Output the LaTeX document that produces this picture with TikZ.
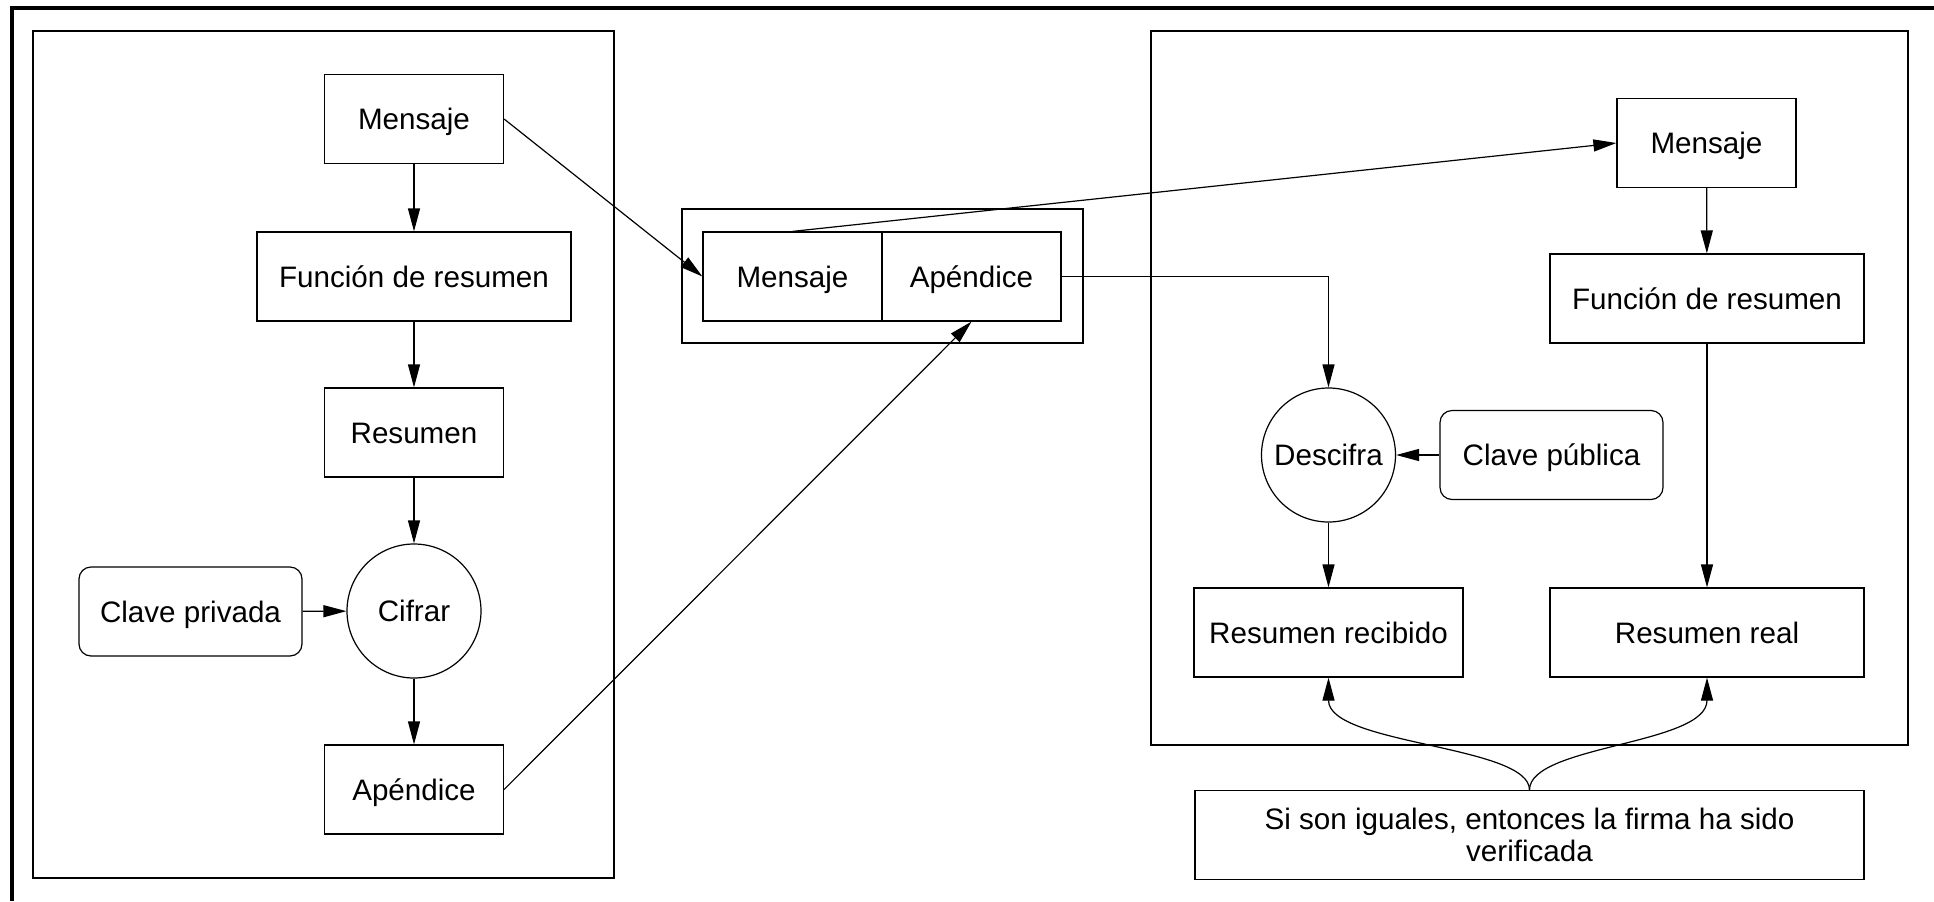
\documentclass[tikz,border=0pt]{standalone}
\usepackage{fontspec}
\setmainfont{Liberation Sans}
\usetikzlibrary{arrows.meta}

\begin{document}
\begin{tikzpicture}[x=0.5pt,y=-0.5pt,line width=0.6pt,
  font=\fontsize{14.8}{16}\selectfont,
  box/.style={draw,inner sep=0pt,minimum height=44.5pt,text height=10.6pt,text depth=0pt},
  keybox/.style={box,rounded corners=6pt,minimum width=111.5pt},
  op/.style={draw,circle,inner sep=0pt,minimum size=67pt,text height=10.6pt,text depth=0pt},
  note/.style={draw,inner sep=0pt,minimum height=44.5pt,align=center},
  arr/.style={-{Triangle[length=11.5pt,width=6pt]}}]
\pgfmathsetmacro{\smallw}{89.5}
\pgfmathsetmacro{\widew}{157}
\useasboundingbox (0,0) rectangle (1934,901);
\draw[line width=2pt] (12,901) -- (12,8) -- (1934,8);
\draw (33,31) rectangle (614,878);
\draw (1151,31) rectangle (1908,745);
\draw (682,209) rectangle (1083,343);

\node[box,minimum width=\smallw pt] (msgA) at (414,119) {Mensaje};
\node[box,minimum width=\widew pt] (hashA) at (414,276.5) {Función de resumen};
\node[box,minimum width=\smallw pt] (sumA) at (414,432.5) {Resumen};
\node[op] (enc) at (414,611) {Cifrar};
\node[keybox] (priv) at (190.5,611.5) {Clave privada};
\node[box,minimum width=\smallw pt] (appA) at (414,789.5) {Apéndice};

\node[box,minimum width=\smallw pt] (msgM) at (792.5,276.5) {Mensaje};
\node[box,minimum width=\smallw pt] (appM) at (971.5,276.5) {Apéndice};

\node[box,minimum width=\smallw pt] (msgB) at (1706.5,143) {Mensaje};
\node[box,minimum width=\widew pt] (hashB) at (1707,298.5) {Función de resumen};
\node[op] (dec) at (1328.5,455) {Descifra};
\node[keybox] (pub) at (1551.5,455) {Clave pública};
\node[box,minimum width=134.5pt] (sumRx) at (1328.5,632.5) {Resumen recibido};
\node[box,minimum width=\widew pt] (sumReal) at (1707,632.5) {Resumen real};
\node[note,minimum width=334.5pt] (check) at (1529.5,835) {Si son iguales, entonces la firma ha sido\\verificada};

\draw[arr] (msgA) -- (hashA);
\draw[arr] (hashA) -- (sumA);
\draw[arr] (sumA) -- (enc);
\draw[arr] (priv) -- (enc);
\draw[arr] (enc) -- (appA);
\draw[arr] (msgA.east) -- (msgM.west);
\draw[arr] (appA.east) -- (appM.south);
\draw[arr] (msgM.north) -- (msgB.west);
\draw[arr] (appM.east) -| (dec.north);
\draw[arr] (pub) -- (dec);
\draw[arr] (dec) -- (sumRx);
\draw[arr] (msgB) -- (hashB);
\draw[arr] (hashB) -- (sumReal);
\draw[arr] (check.north) .. controls (1529.5,745) and (1328.5,745) .. (sumRx.south);
\draw[arr] (check.north) .. controls (1529.5,745) and (1707,745) .. (sumReal.south);
\end{tikzpicture}
\end{document}
